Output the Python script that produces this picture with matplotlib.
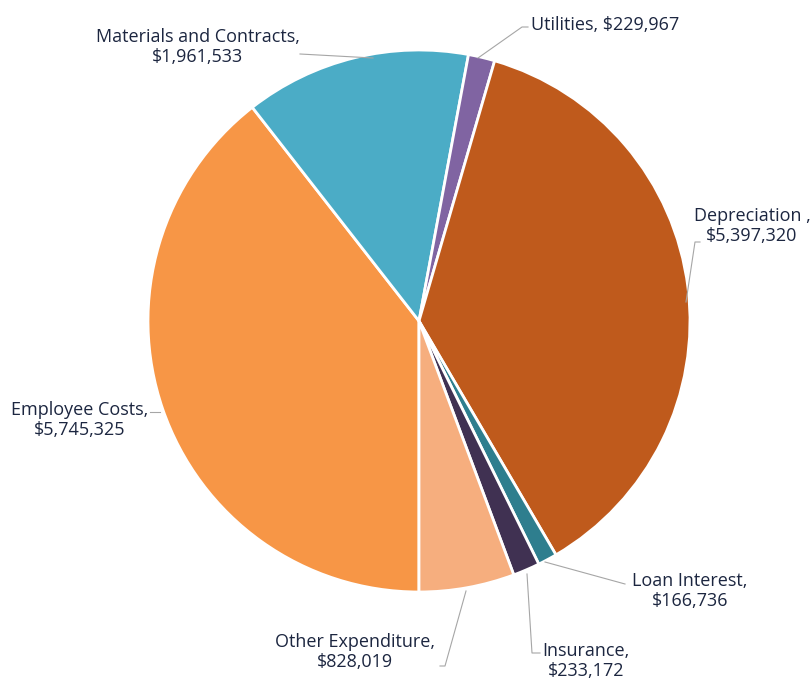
import matplotlib.pyplot as plt

labels = ['Employee Costs', 'Materials and Contracts', 'Utilities', 'Depreciation ',
          'Loan Interest', 'Insurance', 'Other Expenditure']
values = [5745325, 1961533, 229967, 5397320, 166736, 233172, 828019]
colors = ['#F79646', '#4BACC6', '#8064A2', '#BF5A1C', '#2E7E8E', '#403152', '#F6AE7E']

# label text positions (pixels from top-left), alignment, and leader line points
label_pos = [(80, 420, 'center'), (198, 47, 'center'), (531, 25, 'left'), (752, 226, 'center'),
             (690, 591, 'center'), (586, 661, 'center'), (355, 652, 'center')]
leaders = [
    [(150, 412), (160, 412)],
    [(300, 54), (373, 58)],
    [(478, 58), (522, 27), (528, 27)],
    [(686, 302), (695, 242), (700, 242)],
    [(545, 562), (625, 584)],
    [(527, 574), (532, 653), (540, 653)],
    [(466, 591), (445, 666), (440, 666)],
]

W, H = 812, 684
fig = plt.figure(figsize=(W / 100, H / 100), dpi=100)
ax = fig.add_axes([0, 0, 1, 1])

cx, cy, r = 419, 321, 271
ax.pie(values, colors=colors, startangle=-90, counterclock=False,
       center=(cx, H - cy), radius=r, frame=True,
       wedgeprops=dict(edgecolor='white', linewidth=2))
ax.set_xlim(0, W)
ax.set_ylim(0, H)
ax.set_aspect('equal')
ax.axis('off')

for lab, v, (x, y, ha), pts in zip(labels, values, label_pos, leaders):
    if lab == 'Utilities':
        txt = f'{lab}, ${v:,}'
    else:
        txt = f'{lab},\n${v:,}'
    ax.text(x, H - y, txt, ha=ha, va='center', fontsize=13, color='#1C2640',
            family=['Open Sans', 'DejaVu Sans'], linespacing=1.1)
    ax.plot([p[0] for p in pts], [H - p[1] for p in pts], color='#A6A6A6', lw=0.8)

fig.savefig('out.png', dpi=100)
